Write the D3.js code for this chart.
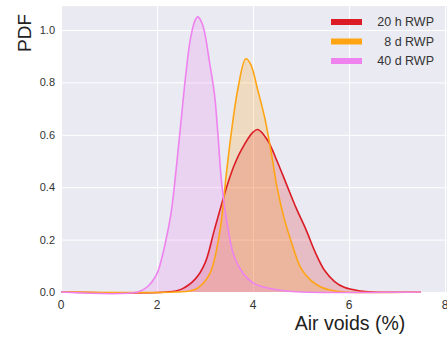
<!DOCTYPE html>
<html>
<head>
<meta charset="utf-8">
<script src="https://cdn.jsdelivr.net/npm/d3@7"></script>
<style>
  body { margin: 0; background: #fff; }
  text { font-family: "Liberation Sans", Arial, sans-serif; }
</style>
</head>
<body>
<svg width="447" height="338"></svg>
<script>
// series (x = air voids %, y = PDF)
const names = ["20 h RWP", "8 d RWP", "40 d RWP"];
const colors = ["#dc1c24", "#ffa514", "#ee82ee"];

const x20h = [0, 2.2, 2.5, 2.8, 3.0, 3.2, 3.45, 3.6, 3.75, 4.0, 4.1, 4.3, 4.5, 4.7, 4.9, 5.1, 5.3, 5.5, 5.7, 5.9, 6.2, 6.5, 7.5];
const y20h = [0, 0, 0.01, 0.05, 0.11, 0.24, 0.40, 0.48, 0.54, 0.61, 0.62, 0.58, 0.50, 0.41, 0.32, 0.24, 0.15, 0.08, 0.04, 0.018, 0.005, 0, 0];

const x8d = [0, 2.4, 2.7, 2.85, 3.1, 3.3, 3.45, 3.55, 3.68, 3.85, 3.95, 4.1, 4.25, 4.4, 4.5, 4.65, 4.8, 5.0, 5.2, 5.4, 5.6, 5.9, 7.5];
const y8d = [0, 0, 0.005, 0.015, 0.07, 0.22, 0.46, 0.61, 0.77, 0.89, 0.87, 0.77, 0.66, 0.51, 0.40, 0.28, 0.19, 0.09, 0.045, 0.02, 0.008, 0, 0];

const x40d = [0, 1.6, 1.8, 2.0, 2.1, 2.2, 2.3, 2.4, 2.5, 2.6, 2.7, 2.8, 2.85, 2.95, 3.1, 3.2, 3.27, 3.35, 3.5, 3.6, 3.8, 4.0, 4.3, 4.6, 5.0, 7.5];
const y40d = [0, 0, 0.02, 0.07, 0.13, 0.21, 0.31, 0.47, 0.65, 0.83, 0.97, 1.04, 1.05, 1.02, 0.87, 0.75, 0.6, 0.41, 0.22, 0.14, 0.07, 0.035, 0.015, 0.006, 0, 0];

const xTicks = [0, 2, 4, 6, 8];
const yTicks = [0, 0.2, 0.4, 0.6, 0.8, 1.0];

const svg = d3.select("svg");
const mLeft = 61, mRight = 445, mTop = 6, mBottom = 292;

const x = d3.scaleLinear().domain([0, 8]).range([mLeft, mRight]);
const y = d3.scaleLinear().domain([0, 1]).range([mBottom, 30]);

svg.append("rect")
    .attr("x", mLeft).attr("y", mTop)
    .attr("width", 447 - mLeft).attr("height", mBottom - mTop)
    .attr("fill", "#eaeaf2");

// grid
svg.append("g")
    .attr("transform", `translate(0,${mBottom})`)
    .call(d3.axisBottom(x).tickValues(xTicks).tickSize(-(mBottom - mTop)).tickFormat(""))
    .call(g => g.select(".domain").remove())
    .call(g => g.selectAll("line").attr("stroke", "#fff").attr("stroke-width", 1));
svg.append("g")
    .attr("transform", `translate(${mLeft},0)`)
    .call(d3.axisLeft(y).tickValues(yTicks).tickSize(-(447 - mLeft)).tickFormat(""))
    .call(g => g.select(".domain").remove())
    .call(g => g.selectAll("line").attr("stroke", "#fff").attr("stroke-width", 1));

const series = [
    {xs: x20h, ys: y20h},
    {xs: x8d, ys: y8d},
    {xs: x40d, ys: y40d}
];

const curve = d3.curveCatmullRom.alpha(0.5);
const area = d3.area()
    .x(d => x(d[0])).y0(y(0)).y1(d => y(Math.max(0, d[1])))
    .curve(curve);
const line = d3.line()
    .x(d => x(d[0])).y(d => y(d[1]))
    .curve(curve);

series.forEach((s, i) => {
    const pts = s.xs.map((v, j) => [v, s.ys[j]]);
    svg.append("path")
        .attr("d", area(pts))
        .attr("fill", colors[i])
        .attr("fill-opacity", 0.22);
});
series.forEach((s, i) => {
    const pts = s.xs.map((v, j) => [v, s.ys[j]]);
    svg.append("path")
        .attr("d", line(pts))
        .attr("fill", "none")
        .attr("stroke", colors[i])
        .attr("stroke-width", 1.6);
});

// tick labels
svg.append("g")
    .selectAll("text")
    .data(xTicks)
    .join("text")
    .attr("x", d => x(d))
    .attr("y", 309)
    .attr("text-anchor", "middle")
    .attr("font-size", 12)
    .attr("fill", "#333")
    .text(d => d);

svg.append("g")
    .selectAll("text")
    .data(yTicks)
    .join("text")
    .attr("x", 55)
    .attr("y", d => y(d) + 4)
    .attr("text-anchor", "end")
    .attr("font-size", 11)
    .attr("fill", "#333")
    .text(d => d.toFixed(1));

// axis titles
svg.append("text")
    .attr("x", 350).attr("y", 330)
    .attr("text-anchor", "middle")
    .attr("font-size", 19.5)
    .attr("fill", "#222")
    .text("Air voids (%)");

svg.append("text")
    .attr("transform", "translate(31,33) rotate(-90)")
    .attr("text-anchor", "middle")
    .attr("font-size", 19)
    .attr("fill", "#222")
    .text("PDF");

// legend
const legend = svg.append("g");
names.forEach((n, i) => {
    const ly = 22 + i * 19.5;
    legend.append("line")
        .attr("x1", 331).attr("x2", 362)
        .attr("y1", ly).attr("y2", ly)
        .attr("stroke", colors[i])
        .attr("stroke-width", 6);
    legend.append("text")
        .attr("x", 434).attr("y", ly + 4)
        .attr("text-anchor", "end")
        .attr("font-size", 12.5)
        .attr("fill", "#333")
        .text(n);
});
</script>
</body>
</html>
